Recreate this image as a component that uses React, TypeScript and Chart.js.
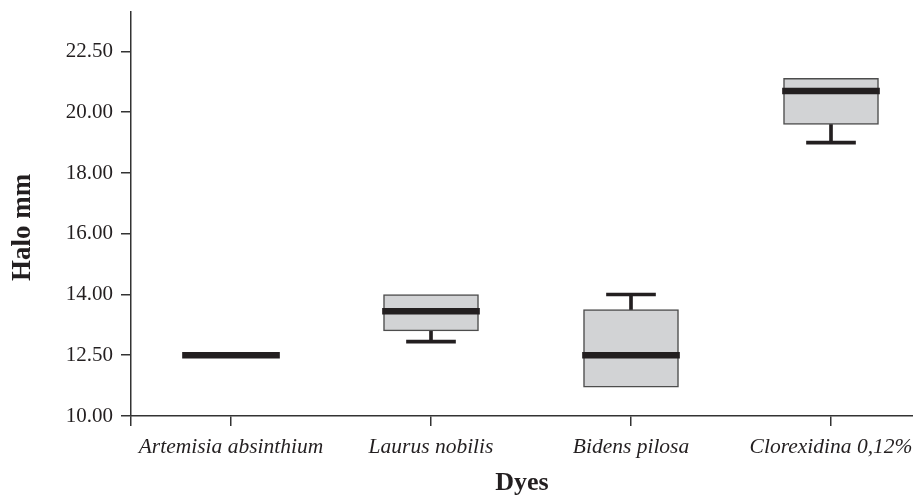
import React, { useEffect, useRef } from 'react';
import { Chart, registerables } from 'chart.js';

Chart.register(...registerables);

const categories = ['Artemisia absinthium', 'Laurus nobilis', 'Bidens pilosa', 'Clorexidina 0,12%'];
const minValues = [12.0, 12.45, 10.95, 19.0];
const q1Values = [12.0, 12.8, 10.95, 19.6];
const medianValues = [12.0, 13.45, 12.0, 20.7];
const q3Values = [12.0, 14.0, 13.5, 21.12];
const maxValues = [12.0, 14.0, 14.0, 21.12];
const yTickValues = [10, 12, 14, 16, 18, 20, 22];
const yTickLabels = ['10.00', '12.50', '14.00', '16.00', '18.00', '20.00', '22.50'];

const FONT = "'Liberation Serif', 'Times New Roman', serif";
const INK = '#231f20';
const MEDIAN_HALF = 0.095;
const CAP_HALF = 0.05;

type Pt = { x: number; y: [number, number] };

export default function App() {
  const canvasRef = useRef<HTMLCanvasElement | null>(null);

  useEffect(() => {
    if (!canvasRef.current) return;
    const idx = categories.map((_, i) => i + 1);

    const lowerWhisker: Pt[] = [];
    const upperWhisker: Pt[] = [];
    const caps: Pt[] = [];
    const boxes: Pt[] = [];
    const medians: Pt[] = [];
    idx.forEach((x, i) => {
      if (minValues[i] < q1Values[i]) {
        lowerWhisker.push({ x, y: [minValues[i], q1Values[i]] });
        caps.push({ x, y: [minValues[i] - CAP_HALF, minValues[i] + CAP_HALF] });
      }
      if (maxValues[i] > q3Values[i]) {
        upperWhisker.push({ x, y: [q3Values[i], maxValues[i]] });
        caps.push({ x, y: [maxValues[i] - CAP_HALF, maxValues[i] + CAP_HALF] });
      }
      if (q3Values[i] > q1Values[i]) boxes.push({ x, y: [q1Values[i], q3Values[i]] });
      medians.push({ x, y: [medianValues[i] - MEDIAN_HALF, medianValues[i] + MEDIAN_HALF] });
    });

    const chart = new Chart(canvasRef.current, {
      type: 'bar',
      data: {
        datasets: [
          { data: lowerWhisker as any, backgroundColor: INK, barThickness: 3, order: 5, grouped: false } as any,
          { data: upperWhisker as any, backgroundColor: INK, barThickness: 3, order: 5, grouped: false } as any,
          { data: caps as any, backgroundColor: INK, barThickness: 49, order: 4, grouped: false } as any,
          {
            data: boxes as any,
            backgroundColor: '#d2d3d5',
            borderColor: '#4d4d4d',
            borderWidth: 1.5,
            borderSkipped: false,
            barThickness: 95,
            order: 2,
            grouped: false,
          } as any,
          { data: medians as any, backgroundColor: INK, barThickness: 97, order: 1, grouped: false } as any,
        ],
      },
      options: {
        animation: false,
        responsive: true,
        maintainAspectRatio: false,
        layout: { padding: { top: 12, right: 0, left: 0, bottom: 0 } },
        plugins: { legend: { display: false }, tooltip: { enabled: false } },
        scales: {
          x: {
            type: 'linear',
            min: 0.5,
            max: 4.41,
            offset: false,
            afterBuildTicks: (scale: any) => {
              scale.ticks = [0.5, ...idx].map((v) => ({ value: v }));
            },
            afterFit: (scale: any) => {
              scale.height = 83;
              scale.paddingLeft = 0;
              scale.paddingRight = 0;
            },
            ticks: {
              autoSkip: false,
              maxRotation: 0,
              padding: 8,
              color: INK,
              font: { family: FONT, size: 21.5, style: 'italic' },
              callback: (v: any) => categories[Number(v) - 1] ?? '',
            },
            grid: { offset: false, drawOnChartArea: false, drawTicks: true, tickLength: 10, color: '#333', lineWidth: 1.5 },
            border: { color: '#333', width: 1.5 },
            title: {
              display: true,
              text: 'Dyes',
              color: INK,
              font: { family: FONT, size: 26, weight: 'bold' },
              padding: { top: 0, bottom: 0 },
            },
          },
          y: {
            type: 'linear',
            min: 10,
            max: 23.3,
            afterBuildTicks: (scale: any) => {
              scale.ticks = yTickValues.map((v) => ({ value: v }));
            },
            afterFit: (scale: any) => {
              scale.width = 131;
              scale.paddingTop = 0;
              scale.paddingBottom = 0;
            },
            ticks: {
              padding: 8,
              color: INK,
              font: { family: FONT, size: 21 },
              callback: (v: any) => {
                const k = yTickValues.indexOf(Number(v));
                return k >= 0 ? yTickLabels[k] : '';
              },
            },
            grid: { drawOnChartArea: false, drawTicks: true, tickLength: 10, color: '#333', lineWidth: 1.5 },
            border: { color: '#333', width: 1.5 },
            title: {
              display: true,
              text: 'Halo mm    ',
              color: INK,
              font: { family: FONT, size: 27, weight: 'bold' },
              padding: { top: 7, bottom: 0 },
            },
          },
        },
      },
    });
    return () => chart.destroy();
  }, []);

  return (
    <div style={{ position: 'absolute', left: 0, top: 0, width: 913, height: 499, background: '#fff' }}>
      <canvas ref={canvasRef} />
    </div>
  );
}
